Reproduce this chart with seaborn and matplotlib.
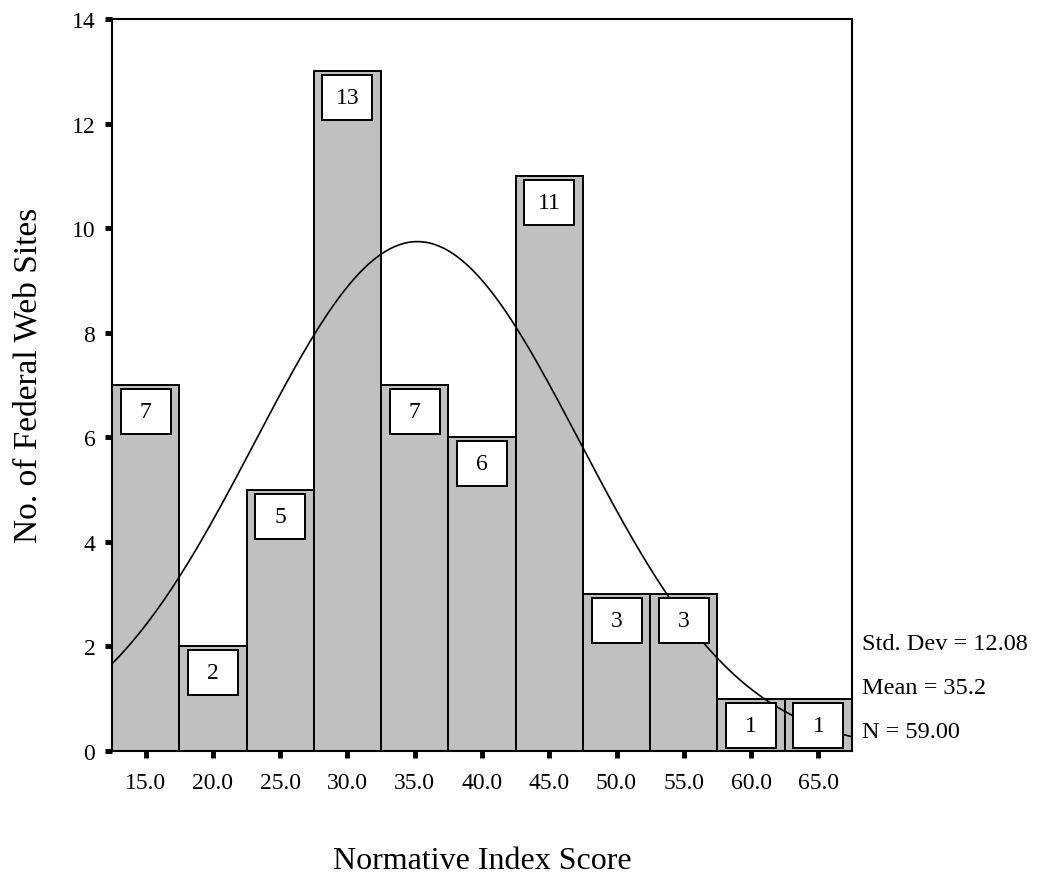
import numpy as np
import pandas as pd
import seaborn as sns
import matplotlib.pyplot as plt
import matplotlib.transforms as mtransforms
from matplotlib.patches import Rectangle

# histogram data (bin centres and counts)
centers = [15, 20, 25, 30, 35, 40, 45, 50, 55, 60, 65]
counts = [7, 2, 5, 13, 7, 6, 11, 3, 3, 1, 1]
tick_labels = ['15.0', '20.0', '25.0', '30.0', '35.0', '40.0',
               '45.0', '50.0', '55.0', '60.0', '65.0']
y_ticks = [0, 2, 4, 6, 8, 10, 12, 14]
std_dev = 12.08
mean = 35.2
n = 59
bin_width = 5

sns.set_style('ticks')
plt.rcParams['font.family'] = ['Liberation Serif', 'DejaVu Serif']
plt.rcParams['text.color'] = 'black'
plt.rcParams['axes.labelcolor'] = 'black'
plt.rcParams['xtick.color'] = 'black'
plt.rcParams['ytick.color'] = 'black'

df = pd.DataFrame({'score': centers, 'count': counts})

fig = plt.figure(figsize=(10.39, 8.78), dpi=100)
ax = fig.add_axes([112 / 1039, 1 - 752 / 878, 740 / 1039, 732 / 878])

lo = centers[0] - bin_width / 2
hi = centers[-1] + bin_width / 2
sns.histplot(data=df, x='score', weights='count', binwidth=bin_width,
             binrange=(lo, hi), color='#c0c0c0', edgecolor='black',
             linewidth=1.4, alpha=1, ax=ax, zorder=2)

# fitted normal curve from the reported stats
xs = np.linspace(lo, hi, 300)
ys = n * bin_width * np.exp(-0.5 * ((xs - mean) / std_dev) ** 2) / (std_dev * np.sqrt(2 * np.pi))
sns.lineplot(x=xs, y=ys, color='black', linewidth=1.2, ax=ax, zorder=3)

# count boxes just below each bar top
for c, v in zip(centers, counts):
    trans = fig.dpi_scale_trans + mtransforms.ScaledTranslation(c, v, ax.transData)
    ax.add_patch(Rectangle((-0.25, -0.49), 0.5, 0.45, transform=trans,
                           facecolor='white', edgecolor='black', lw=1.4, zorder=4))
    ax.text(0, -0.265, str(v), transform=trans, ha='center', va='center',
            fontsize=17, zorder=5)

ax.set_xlim(lo, hi)
ax.set_ylim(0, 14)
ax.set_xticks(centers)
ax.set_xticklabels(tick_labels)
ax.set_yticks(y_ticks)
ax.tick_params(axis='both', direction='out', length=5, width=3.5,
               labelsize=17)
ax.tick_params(axis='x', pad=10)
ax.tick_params(axis='y', pad=7)
for sp in ax.spines.values():
    sp.set_visible(True)
    sp.set_linewidth(1.5)
    sp.set_color('black')

ax.set_xlabel('Normative Index Score', fontsize=23)
ax.set_ylabel('No. of Federal Web Sites', fontsize=24)
ax.xaxis.set_label_coords(0.5, -(862 - 752) / 732)
ax.yaxis.set_label_coords(-(112 - 28) / 740, (752 - 375) / 732)
ax.xaxis.label.set_va('center')
ax.yaxis.label.set_va('center')

blend = mtransforms.blended_transform_factory(ax.transAxes, ax.transData)
x_txt = 1 + 10 / 740
ax.text(x_txt, 2.05, f'Std. Dev = {std_dev:.2f}', transform=blend, fontsize=17.5, va='center')
ax.text(x_txt, 1.22, f'Mean = {mean:.1f}', transform=blend, fontsize=17.5, va='center')
ax.text(x_txt, 0.38, f'N = {n:.2f}', transform=blend, fontsize=17.5, va='center')

fig.savefig('out.png', dpi=100)
